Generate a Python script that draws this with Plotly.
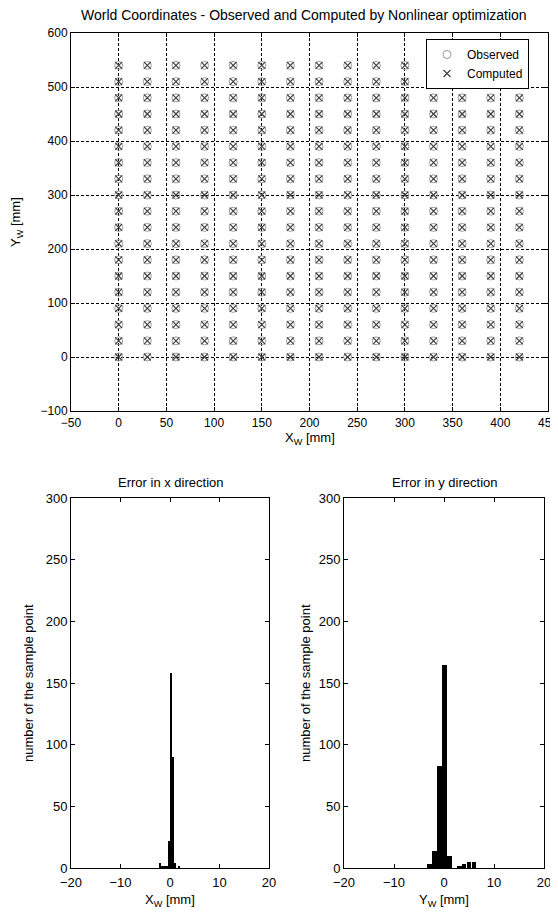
import plotly.graph_objects as go

# ---------------- data ----------------
grid_x_levels = [0, 30, 60, 90, 120, 150, 180, 210, 240, 270, 300, 330, 360, 390, 420]
grid_y_levels = [0, 30, 60, 90, 120, 150, 180, 210, 240, 270, 300, 330, 360, 390, 420,
                 450, 480, 510, 540]

# computed points coincide with observed ones at this scale (errors of a few mm)
observed_x = [x for y in grid_y_levels for x in grid_x_levels]
observed_y = [y for y in grid_y_levels for x in grid_x_levels]
computed_x = [x for y in grid_y_levels for x in grid_x_levels]
computed_y = [y for y in grid_y_levels for x in grid_x_levels]

# histogram of error in x direction (10 bins)
errx_centers = [-1.965, -1.535, -1.105, -0.675, -0.245, 0.185, 0.615, 1.045, 1.475, 1.905]
errx_counts = [4, 2, 1, 2, 22, 158, 90, 4, 0, 2]
errx_width = 0.43

# histogram of error in y direction (10 bins)
erry_centers = [-2.9, -1.9, -0.9, 0.1, 1.1, 2.1, 3.1, 4.0, 5.0, 6.0]
erry_counts = [3, 14, 83, 165, 10, 0, 2, 3, 5, 5]
erry_width = 0.99

top_xticks = [-50, 0, 50, 100, 150, 200, 250, 300, 350, 400, 450]
top_yticks = [-100, 0, 100, 200, 300, 400, 500, 600]
hist_xticks = [-20, -10, 0, 10, 20]
hist_yticks = [0, 50, 100, 150, 200, 250, 300]

# ---------------- figure ----------------
OFF = 8  # page body margin
W, H = 558, 912
FONT = "Liberation Sans, Arial, sans-serif"

def px(x):
    return (x - OFF) / W

def py(y):
    return 1 - (y - OFF) / H

fig = go.Figure()

fig.add_trace(go.Scatter(
    x=observed_x, y=observed_y, mode="markers", name="Observed",
    marker=dict(symbol="circle-open", size=8, color="#9a9a9a",
                line=dict(width=1, color="#9a9a9a")),
    xaxis="x", yaxis="y"))
fig.add_trace(go.Scatter(
    x=computed_x, y=computed_y, mode="markers", name="Computed",
    marker=dict(symbol="x-thin-open", size=7, color="#404040",
                line=dict(width=1.2, color="#404040")),
    xaxis="x", yaxis="y"))

fig.add_trace(go.Bar(
    x=errx_centers, y=errx_counts, width=[errx_width] * len(errx_centers),
    marker=dict(color="black", line=dict(width=0)), showlegend=False,
    xaxis="x2", yaxis="y2"))
fig.add_trace(go.Bar(
    x=erry_centers, y=erry_counts, width=[erry_width] * len(erry_centers),
    marker=dict(color="black", line=dict(width=0)), showlegend=False,
    xaxis="x3", yaxis="y3"))

def common(size):
    return dict(showline=True, linecolor="black", linewidth=1, mirror="ticks",
                ticks="inside", ticklen=4, tickcolor="black", zeroline=False,
                automargin=False,
                tickfont=dict(family=FONT, size=size, color="black"))

top_grid = dict(showgrid=True, gridcolor="black", gridwidth=1, griddash="3px,2px")

fig.update_layout(
    width=W, height=H, autosize=False,
    margin=dict(l=0, r=0, t=0, b=0, pad=0),
    paper_bgcolor="white", plot_bgcolor="white",
    font=dict(family=FONT, size=12, color="black"),
    bargap=0,
    xaxis=dict(domain=[px(71), px(548)], range=[-50, 450], tickvals=top_xticks,
               anchor="y", ticklabelstandoff=1, **top_grid, **common(12)),
    yaxis=dict(domain=[py(411), py(33)], range=[-100, 600], tickvals=top_yticks,
               anchor="x", **top_grid, **common(12)),
    xaxis2=dict(domain=[px(71), px(269)], range=[-20, 20], tickvals=hist_xticks,
                anchor="y2", showgrid=False, ticklabelstandoff=2, **common(13)),
    yaxis2=dict(domain=[py(868), py(498)], range=[0, 300], tickvals=hist_yticks,
                anchor="x2", showgrid=False, **common(13)),
    xaxis3=dict(domain=[px(344), px(544)], range=[-20, 20], tickvals=hist_xticks,
                anchor="y3", showgrid=False, ticklabelstandoff=2, **common(13)),
    yaxis3=dict(domain=[py(868), py(498)], range=[0, 300], tickvals=hist_yticks,
                anchor="x3", showgrid=False, **common(13)),
    legend=dict(x=px(529), y=py(39), xanchor="right", yanchor="top",
                bgcolor="white", bordercolor="black", borderwidth=1,
                font=dict(family=FONT, size=12, color="black"),
                itemwidth=30, tracegroupgap=0),
)

ann = []
def add_text(text, x, y, size=12, angle=0):
    ann.append(dict(text=text, x=px(x), y=py(y), xref="paper", yref="paper",
                    showarrow=False, xanchor="center", yanchor="middle",
                    textangle=angle, font=dict(family=FONT, size=size, color="black")))

add_text("World Coordinates - Observed and Computed by Nonlinear optimization", 304, 15, 14)
add_text("Y<sub>W</sub> [mm]", 16, 222, 13, -90)
add_text("X<sub>W</sub> [mm]", 310, 438, 13)
add_text("Error in x direction", 170, 482, 13)
add_text("Error in y direction", 444, 482, 13)
add_text("number of the sample point", 28, 683, 13, -90)
add_text("number of the sample point", 305, 683, 13, -90)
add_text("X<sub>W</sub> [mm]", 170, 900, 13)
add_text("Y<sub>W</sub> [mm]", 444, 900, 13)
fig.update_layout(annotations=ann)

fig.write_html("out.html")
